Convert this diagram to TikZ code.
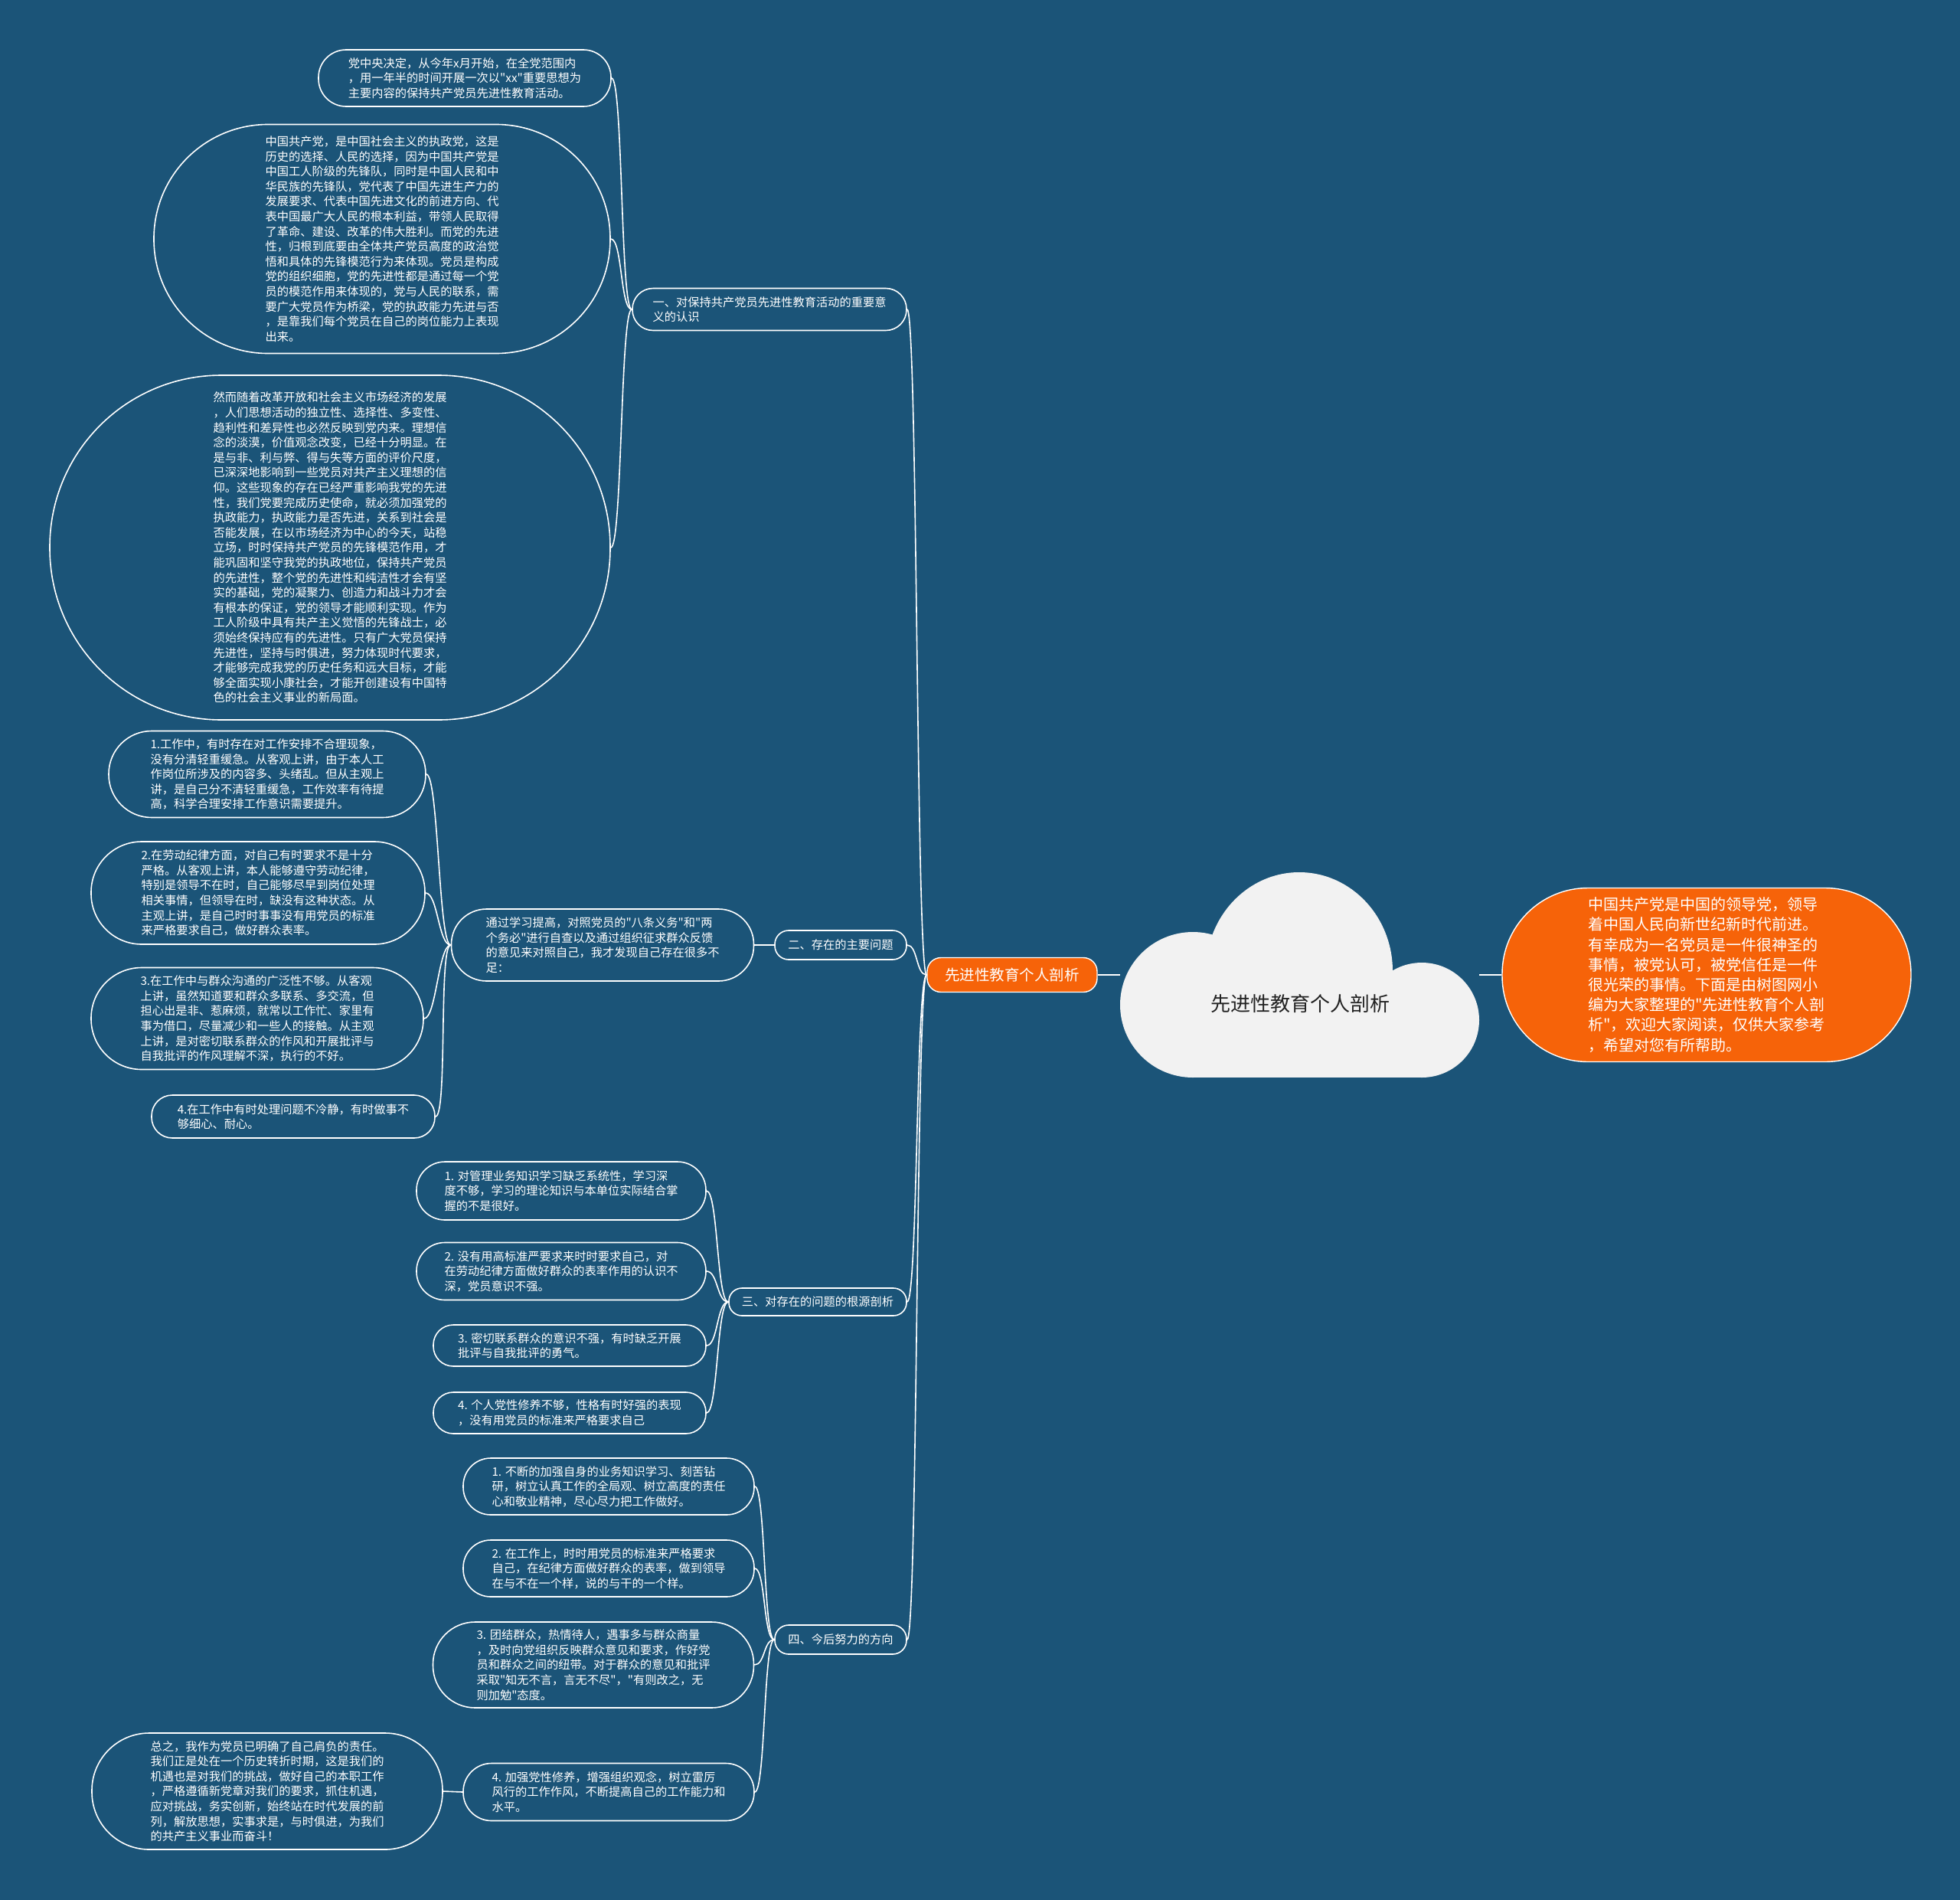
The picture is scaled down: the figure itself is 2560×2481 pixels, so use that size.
\documentclass[tikz,border=0pt]{standalone}
\usepackage{fontspec}
\setmainfont{Noto Sans CJK SC}
\newfontfamily\cjk{Noto Sans CJK SC}
\definecolor{bg}{RGB}{27,84,120}
\definecolor{orng}{RGB}{246,99,9}
\definecolor{cloudc}{RGB}{242,242,242}
\definecolor{roottxt}{RGB}{34,34,34}
\tikzset{
  bub/.style={draw=white, line width=1.6pt, text=white, align=left, inner sep=0pt,
    font=\cjk\fontsize{15.25}{19.6}\selectfont},
  link/.style={draw=white, line width=1.6pt},
}
\begin{document}
\begin{tikzpicture}[x=1pt,y=-1pt]
\useasboundingbox (0,0) rectangle (2560,2481);
\clip (0,0) rectangle (2560,2481);
\fill[bg] (0,0) rectangle (2560,2481);

% cloud
\fill[cloudc] (1558,1312) circle[radius=95];
\fill[cloudc] (1697,1268) ellipse[x radius=122, y radius=129];
\fill[cloudc] (1857,1332) circle[radius=75];
\fill[cloudc] (1558,1300) rectangle (1857,1407);
\node[inner sep=0pt, minimum width=469pt, minimum height=268pt] (root) at (1697.5,1273) {};
\node[text=roottxt, font=\cjk\fontsize{26}{30}\selectfont] (roottext) at (1698,1311) {先进性教育个人剖析};

% orange nodes
\node[draw=white, line width=1.4pt, fill=orng, text=white, rounded corners=18pt,
  minimum width=222pt, minimum height=45pt, inner sep=0pt,
  font=\cjk\fontsize{19.5}{24}\selectfont] (lroot) at (1322,1273) {先进性教育个人剖析};
\node[draw=white, line width=1.4pt, fill=orng, text=white, rounded corners=112pt,
  minimum width=534pt, minimum height=227pt, inner sep=0pt, align=left,
  font=\cjk\fontsize{20}{26.2}\selectfont] (rnote) at (2229,1273)
  {中国共产党是中国的领导党，领导\\着中国人民向新世纪新时代前进。\\有幸成为一名党员是一件很神圣的\\事情，被党认可，被党信任是一件\\很光荣的事情。下面是由树图网小\\编为大家整理的"先进性教育个人剖\\析"，欢迎大家阅读，仅供大家参考\\，希望对您有所帮助。};

% sections
\node[bub, rounded corners=27pt, minimum width=358pt, minimum height=55pt] (s1) at (1005,404)
  {一、对保持共产党员先进性教育活动的重要意\\义的认识};
\node[bub, rounded corners=18pt, minimum width=172pt, minimum height=38pt] (s2) at (1098,1234)
  {二、存在的主要问题};
\node[bub, rounded corners=17pt, minimum width=232pt, minimum height=36pt] (s3) at (1068,1700)
  {三、对存在的问题的根源剖析};
\node[bub, rounded corners=18pt, minimum width=172pt, minimum height=38pt] (s4) at (1098,2141)
  {四、今后努力的方向};

% section 1 children
\node[bub, rounded corners=36pt, minimum width=382pt, minimum height=74pt] (c1a) at (607,102)
  {党中央决定，从今年x月开始，在全党范围内\\，用一年半的时间开展一次以"xx"重要思想为\\主要内容的保持共产党员先进性教育活动。};
\node[bub, rounded corners=149pt, minimum width=596pt, minimum height=299pt] (c1b) at (499,312)
  {中国共产党，是中国社会主义的执政党，这是\\历史的选择、人民的选择，因为中国共产党是\\中国工人阶级的先锋队，同时是中国人民和中\\华民族的先锋队，党代表了中国先进生产力的\\发展要求、代表中国先进文化的前进方向、代\\表中国最广大人民的根本利益，带领人民取得\\了革命、建设、改革的伟大胜利。而党的先进\\性，归根到底要由全体共产党员高度的政治觉\\悟和具体的先锋模范行为来体现。党员是构成\\党的组织细胞，党的先进性都是通过每一个党\\员的模范作用来体现的，党与人民的联系，需\\要广大党员作为桥梁，党的执政能力先进与否\\，是靠我们每个党员在自己的岗位能力上表现\\出来。};
\node[bub, rounded corners=224pt, minimum width=732pt, minimum height=450pt] (c1c) at (431,715)
  {然而随着改革开放和社会主义市场经济的发展\\，人们思想活动的独立性、选择性、多变性、\\趋利性和差异性也必然反映到党内来。理想信\\念的淡漠，价值观念改变，已经十分明显。在\\是与非、利与弊、得与失等方面的评价尺度，\\已深深地影响到一些党员对共产主义理想的信\\仰。这些现象的存在已经严重影响我党的先进\\性，我们党要完成历史使命，就必须加强党的\\执政能力，执政能力是否先进，关系到社会是\\否能发展，在以市场经济为中心的今天，站稳\\立场，时时保持共产党员的先锋模范作用，才\\能巩固和坚守我党的执政地位，保持共产党员\\的先进性，整个党的先进性和纯洁性才会有坚\\实的基础，党的凝聚力、创造力和战斗力才会\\有根本的保证，党的领导才能顺利实现。作为\\工人阶级中具有共产主义觉悟的先锋战士，必\\须始终保持应有的先进性。只有广大党员保持\\先进性，坚持与时俱进，努力体现时代要求，\\才能够完成我党的历史任务和远大目标，才能\\够全面实现小康社会，才能开创建设有中国特\\色的社会主义事业的新局面。};

% section 2
\node[bub, rounded corners=46pt, minimum width=395pt, minimum height=94pt] (mid2) at (787,1234)
  {通过学习提高，对照党员的"八条义务"和"两\\个务必"进行自查以及通过组织征求群众反馈\\的意见来对照自己，我才发现自己存在很多不\\足：};
\node[bub, rounded corners=56pt, minimum width=414pt, minimum height=113pt] (i21) at (349,1011)
  {1.工作中，有时存在对工作安排不合理现象，\\没有分清轻重缓急。从客观上讲，由于本人工\\作岗位所涉及的内容多、头绪乱。但从主观上\\讲，是自己分不清轻重缓急，工作效率有待提\\高，科学合理安排工作意识需要提升。};
\node[bub, rounded corners=66pt, minimum width=436pt, minimum height=134pt] (i22) at (337,1166)
  {2.在劳动纪律方面，对自己有时要求不是十分\\严格。从客观上讲，本人能够遵守劳动纪律，\\特别是领导不在时，自己能够尽早到岗位处理\\相关事情，但领导在时，缺没有这种状态。从\\主观上讲，是自己时时事事没有用党员的标准\\来严格要求自己，做好群众表率。};
\node[bub, rounded corners=66pt, minimum width=434pt, minimum height=133pt] (i23) at (336,1330)
  {3.在工作中与群众沟通的广泛性不够。从客观\\上讲，虽然知道要和群众多联系、多交流，但\\担心出是非、惹麻烦，就常以工作忙、家里有\\事为借口，尽量减少和一些人的接触。从主观\\上讲，是对密切联系群众的作风和开展批评与\\自我批评的作风理解不深，执行的不好。};
\node[bub, rounded corners=27pt, minimum width=370pt, minimum height=56pt] (i24) at (383,1458)
  {4.在工作中有时处理问题不冷静，有时做事不\\够细心、耐心。};

% section 3
\node[bub, rounded corners=37pt, minimum width=378pt, minimum height=76pt] (i31) at (733,1555)
  {1. 对管理业务知识学习缺乏系统性，学习深\\度不够，学习的理论知识与本单位实际结合掌\\握的不是很好。};
\node[bub, rounded corners=37pt, minimum width=378pt, minimum height=75pt] (i32) at (733,1660)
  {2. 没有用高标准严要求来时时要求自己，对\\在劳动纪律方面做好群众的表率作用的认识不\\深，党员意识不强。};
\node[bub, rounded corners=26pt, minimum width=356pt, minimum height=54pt] (i33) at (744,1757)
  {3. 密切联系群众的意识不强，有时缺乏开展\\批评与自我批评的勇气。};
\node[bub, rounded corners=26pt, minimum width=356pt, minimum height=54pt] (i34) at (744,1845)
  {4. 个人党性修养不够，性格有时好强的表现\\，没有用党员的标准来严格要求自己};

% section 4
\node[bub, rounded corners=36pt, minimum width=380pt, minimum height=74pt] (i41) at (795,1941)
  {1. 不断的加强自身的业务知识学习、刻苦钻\\研，树立认真工作的全局观、树立高度的责任\\心和敬业精神，尽心尽力把工作做好。};
\node[bub, rounded corners=36pt, minimum width=380pt, minimum height=74pt] (i42) at (795,2048)
  {2. 在工作上，时时用党员的标准来严格要求\\自己，在纪律方面做好群众的表率，做到领导\\在与不在一个样，说的与干的一个样。};
\node[bub, rounded corners=55pt, minimum width=419pt, minimum height=112pt] (i43) at (775,2174)
  {3. 团结群众，热情待人，遇事多与群众商量\\，及时向党组织反映群众意见和要求，作好党\\员和群众之间的纽带。对于群众的意见和批评\\采取"知无不言，言无不尽"，"有则改之，无\\则加勉"态度。};
\node[bub, rounded corners=37pt, minimum width=380pt, minimum height=75pt] (i44) at (795,2340)
  {4. 加强党性修养，增强组织观念，树立雷厉\\风行的工作作风，不断提高自己的工作能力和\\水平。};
\node[bub, rounded corners=75pt, minimum width=458pt, minimum height=152pt] (concl) at (349,2339)
  {总之，我作为党员已明确了自己肩负的责任。\\我们正是处在一个历史转折时期，这是我们的\\机遇也是对我们的挑战，做好自己的本职工作\\，严格遵循新党章对我们的要求，抓住机遇，\\应对挑战，务实创新，始终站在时代发展的前\\列，解放思想，实事求是，与时俱进，为我们\\的共产主义事业而奋斗！};

% connectors
\draw[link] (lroot.east) -- (root.west);
\draw[link] (root.east) -- (rnote.west);
\foreach \s in {s1,s2,s3,s4}
  \draw[link] (lroot.west) .. controls +(-14,0) and +(14,0) .. (\s.east);
\foreach \c in {c1a,c1b,c1c}
  \draw[link] (s1.west) .. controls +(-15,0) and +(15,0) .. (\c.east);
\draw[link] (s2.west) -- (mid2.east);
\foreach \c in {i21,i22,i23,i24}
  \draw[link] (mid2.west) .. controls +(-16,0) and +(16,0) .. (\c.east);
\foreach \c in {i31,i32,i33,i34}
  \draw[link] (s3.west) .. controls +(-15,0) and +(15,0) .. (\c.east);
\foreach \c in {i41,i42,i43,i44}
  \draw[link] (s4.west) .. controls +(-14,0) and +(14,0) .. (\c.east);
\draw[link] (i44.west) -- (concl.east);
\end{tikzpicture}
\end{document}
